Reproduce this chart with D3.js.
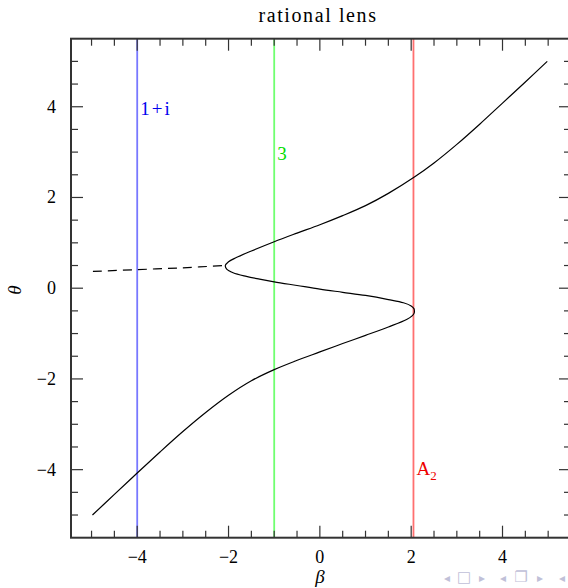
<!DOCTYPE html>
<html>
<head>
<meta charset="utf-8">
<script src="https://cdn.jsdelivr.net/npm/d3@7"></script>
<style>
  body { margin: 0; background: #fff; }
  text { font-family: "Liberation Serif", "DejaVu Serif", serif; }
</style>
</head>
<body>
<div id="chart"></div>
<script>
// lens curve: beta, theta
var curveBeta = [-4.98, -4.5, -4.0, -3.5, -3.0, -2.5, -2.0, -1.5, -1.0, -0.55, 0, 0.5, 1.0, 1.5, 1.9, 2.02, 2.065, 2.07,
                 2.06, 2.0, 1.83, 1.5, 1.0, 0.5, 0, -0.5, -1.0, -1.32, -1.61, -1.9, -2.04, -2.07,
                 -2.0, -1.83, -1.5, -1.0, -0.5, 0, 0.5, 1.0, 1.5, 2.07, 2.5, 3.0, 3.5, 4.0, 4.5, 4.98];
var curveTheta = [-5.0, -4.545, -4.075, -3.61, -3.16, -2.74, -2.36, -2.04, -1.795, -1.61, -1.405, -1.22, -1.04, -0.855, -0.69, -0.61, -0.55, -0.5,
                  -0.45, -0.39, -0.32, -0.25, -0.16, -0.09, -0.02, 0.06, 0.14, 0.2, 0.26, 0.34, 0.42, 0.5,
                  0.585, 0.675, 0.82, 1.025, 1.215, 1.40, 1.60, 1.82, 2.09, 2.45, 2.76, 3.17, 3.615, 4.08, 4.545, 5.0];

// dashed branch
var dashBeta = [-4.97, -4.0, -3.0, -2.1];
var dashTheta = [0.37, 0.41, 0.45, 0.5];

// vertical lines with their labels
var lineBeta = [-4, -1, 2.05];
var lineLabels = ["1+i", "3", "A"];
var lineLabelTheta = [3.95, 2.95, -3.98];
var lineColors = ["#7878ff", "#70ff70", "#ff7070"];
var labelColors = ["#0000ee", "#00dd00", "#ee0000"];

var xTicks = [-4, -2, 0, 2, 4];
var yTicks = [-4, -2, 0, 2, 4];

var width = 568, height = 588;
var plotL = 71, plotR = 571, plotT = 38.7, plotB = 537.7;

var x = d3.scaleLinear().domain([-5.45, 5.5]).range([plotL, plotR]);
var y = d3.scaleLinear().domain([-5.5, 5.5]).range([plotB, plotT]);

var svg = d3.select("#chart").append("svg")
    .attr("width", width)
    .attr("height", height);

var fmt = function(d) { return d < 0 ? "\u2212" + Math.abs(d) : String(d); };

// vertical lines first
lineBeta.forEach(function(b, i) {
  svg.append("line")
    .attr("x1", x(b)).attr("x2", x(b))
    .attr("y1", plotT).attr("y2", plotB)
    .style("stroke", lineColors[i])
    .style("stroke-width", 1.8);
});

// minor and major ticks, all four sides, pointing inward
var minor = d3.range(-5, 5.01, 0.5);
var axisColor = "#333";
var tg = svg.append("g").style("stroke", axisColor).style("stroke-width", 1.2);
minor.forEach(function(v) {
  var len = (Math.abs(v % 2) < 1e-9) ? 12 : 7;
  tg.append("line").attr("x1", x(v)).attr("x2", x(v)).attr("y1", plotB).attr("y2", plotB - len);
  tg.append("line").attr("x1", x(v)).attr("x2", x(v)).attr("y1", plotT).attr("y2", plotT + len);
  tg.append("line").attr("y1", y(v)).attr("y2", y(v)).attr("x1", plotL).attr("x2", plotL + len);
  tg.append("line").attr("y1", y(v)).attr("y2", y(v)).attr("x1", plotR).attr("x2", plotR - len);
});

// frame
svg.append("rect")
  .attr("x", plotL).attr("y", plotT)
  .attr("width", plotR - plotL).attr("height", plotB - plotT)
  .style("fill", "none")
  .style("stroke", axisColor)
  .style("stroke-width", 2);

// tick labels
svg.selectAll(".xl").data(xTicks).enter().append("text")
  .attr("x", function(d) { return x(d); })
  .attr("y", 563)
  .attr("text-anchor", "middle")
  .style("font-size", "18px")
  .text(fmt);

svg.selectAll(".yl").data(yTicks).enter().append("text")
  .attr("x", 56)
  .attr("y", function(d) { return y(d) + 6; })
  .attr("text-anchor", "end")
  .style("font-size", "18px")
  .text(fmt);

// curves
var line = d3.line()
  .x(function(d) { return x(d[0]); })
  .y(function(d) { return y(d[1]); })
  .curve(d3.curveCatmullRom.alpha(0.5));

svg.append("path")
  .attr("d", line(d3.zip(curveBeta, curveTheta)))
  .style("fill", "none")
  .style("stroke", "#000")
  .style("stroke-width", 1.2);

svg.append("path")
  .attr("d", line(d3.zip(dashBeta, dashTheta)))
  .style("fill", "none")
  .style("stroke", "#000")
  .style("stroke-width", 1.2)
  .style("stroke-dasharray", "9,6");

// line labels
lineBeta.forEach(function(b, i) {
  var t = svg.append("text")
    .attr("x", x(b) + 3)
    .attr("y", y(lineLabelTheta[i]) + 6)
    .style("font-size", "19px")
    .style("letter-spacing", i == 0 ? "2px" : "0px")
    .style("fill", labelColors[i])
    .text(lineLabels[i]);
  if (i == 2) {
    t.append("tspan").attr("dy", 5).style("font-size", "13px").text("2");
  }
});

// title and axis names
svg.append("text")
  .attr("x", 318).attr("y", 22)
  .attr("text-anchor", "middle")
  .style("font-size", "20px")
  .style("letter-spacing", "1.6px")
  .text("rational lens");

svg.append("text")
  .attr("x", 320).attr("y", 583)
  .attr("text-anchor", "middle")
  .style("font-size", "19px")
  .style("font-style", "italic")
  .text("\u03b2");

svg.append("text")
  .attr("transform", "translate(21,290) rotate(-90)")
  .attr("text-anchor", "middle")
  .style("font-size", "19px")
  .style("font-style", "italic")
  .text("\u03b8");

// beamer navigation symbols
var navGlyphs = ["\u25c2", "\u25a1", "\u25b8", "\u25c2", "\u2750", "\u25b8", "\u25c2"];
var navX = [447, 464, 482, 503, 521, 540, 562];
svg.selectAll(".nav").data(navGlyphs).enter().append("text")
  .attr("x", function(d, i) { return navX[i]; })
  .attr("y", 582)
  .attr("text-anchor", "middle")
  .style("font-family", "DejaVu Sans")
  .style("font-size", function(d, i) { return (i == 1 || i == 4) ? "15px" : "12px"; })
  .style("fill", "#c0c0d8")
  .text(function(d) { return d; });
</script>
</body>
</html>
